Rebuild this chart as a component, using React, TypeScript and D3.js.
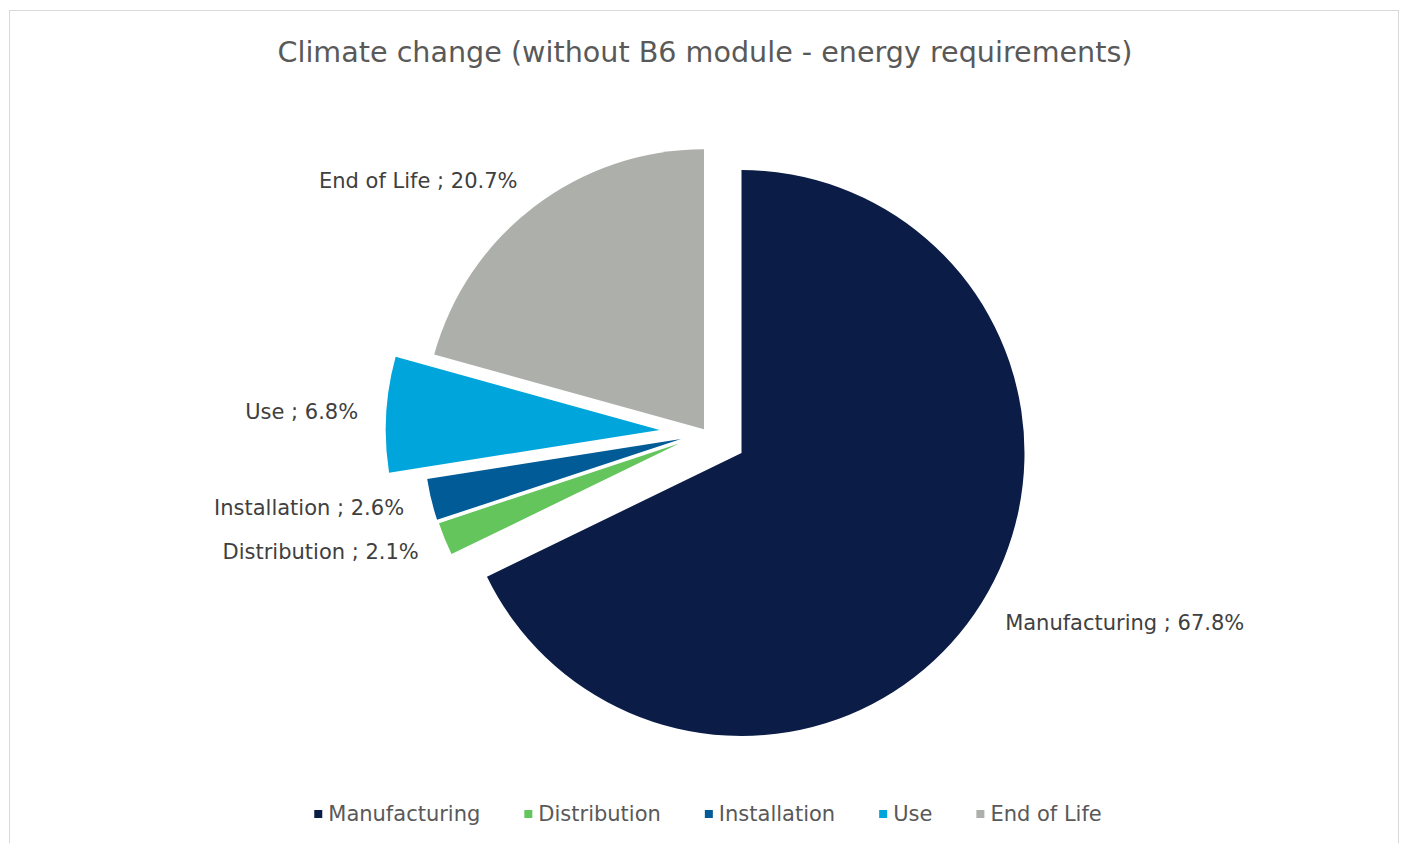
import React, { useMemo } from 'react';
import * as d3 from 'd3';

const title = 'Climate change (without B6 module - energy requirements)';
const categories = ['Manufacturing', 'Distribution', 'Installation', 'Use', 'End of Life'];
const shares = [67.8, 2.1, 2.6, 6.8, 20.7];
const colors = ['#0b1d47', '#63c55b', '#015b97', '#00a6db', '#adafaa'];

// per-slice explode offset (px), radius and label nudge, as drawn in the source chart
const sliceLayout = [
  { dx: 0, dy: 0, r: 283, ldy: 5 },
  { dx: -62.4, dy: -9.5, r: 253, ldy: 3 },
  { dx: -60.5, dy: -14.1, r: 257, ldy: 2 },
  { dx: -81.8, dy: -23.1, r: 274, ldy: -1 },
  { dx: -37.5, dy: -23.7, r: 280, ldy: -3 },
];

const W = 1408;
const H = 843;
const FONT = '"DejaVu Sans", Verdana, sans-serif';
const cx = 741.5;
const cy = 453;

function measure(text: string, size: number) {
  const ctx = document.createElement('canvas').getContext('2d');
  if (!ctx) return text.length * size * 0.55;
  ctx.font = `${size}px ${FONT}`;
  return ctx.measureText(text).width;
}

const App: React.FC = () => {
  const arcs = useMemo(
    () =>
      d3
        .pie<number>()
        .sort(null)
        .value((d) => d)
        .startAngle(0)
        .endAngle(2 * Math.PI)(shares),
    []
  );

  const legend = useMemo(() => {
    const size = 21;
    const box = 8;
    const pad = 6;
    const gap = 44;
    const items = categories.map((c) => ({ c, w: box + pad + measure(c, size) }));
    const total = d3.sum(items, (d) => d.w) + gap * (items.length - 1);
    let x = 708 - total / 2;
    return items.map((it, i) => {
      const out = { ...it, x, color: colors[i] };
      x += it.w + gap;
      return out;
    });
  }, []);

  return (
    <svg
      width={W}
      height={H}
      style={{ position: 'absolute', left: 0, top: 0, background: '#fff' }}
      fontFamily={FONT}
    >
      <rect x={9.5} y={10.5} width={1389} height={H} fill="#fff" stroke="#d9d9d9" strokeWidth={1} />
      <text
        x={705}
        y={62}
        textAnchor="middle"
        fontSize={28.5}
        fill="#595959"
        textLength={855}
        lengthAdjust="spacingAndGlyphs"
      >
        {title}
      </text>

      {arcs.map((a, i) => {
        const L = sliceLayout[i];
        const arc = d3.arc<d3.PieArcDatum<number>>().innerRadius(0).outerRadius(L.r);
        const mid = (a.startAngle + a.endAngle) / 2;
        const lr = L.r + 28;
        const lx = Math.sin(mid) * lr;
        const ly = -Math.cos(mid) * lr + L.ldy;
        const right = Math.sin(mid) > 0;
        return (
          <g key={categories[i]} transform={`translate(${cx + L.dx},${cy + L.dy})`}>
            <path d={arc(a) || ''} fill={colors[i]} />
            <text
              x={lx}
              y={ly}
              textAnchor={right ? 'start' : 'end'}
              dominantBaseline="central"
              fontSize={21}
              fill="#404040"
            >
              {`${categories[i]} ; ${shares[i].toFixed(1)}%`}
            </text>
          </g>
        );
      })}

      {legend.map((it) => (
        <g key={it.c} transform={`translate(${it.x},814)`}>
          <rect x={0} y={-4} width={8} height={8} fill={it.color} />
          <text x={14} y={0} dominantBaseline="central" fontSize={21} fill="#595959">
            {it.c}
          </text>
        </g>
      ))}
    </svg>
  );
};

export default App;
